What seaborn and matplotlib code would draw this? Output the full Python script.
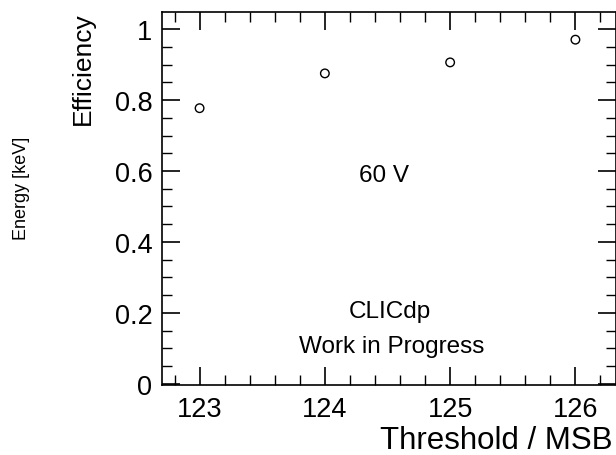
import numpy as np
import pandas as pd
import seaborn as sns
import matplotlib.pyplot as plt
from matplotlib.ticker import MultipleLocator, FormatStrFormatter

# data
threshold = [123, 124, 125, 126]
efficiency = [0.777, 0.875, 0.906, 0.970]
df = pd.DataFrame({'Threshold': threshold, 'Efficiency': efficiency})

sns.set_style('ticks')
plt.rcParams['font.family'] = ['Liberation Sans', 'DejaVu Sans']
plt.rcParams['text.color'] = 'black'

fig = plt.figure(figsize=(6.16, 4.56), dpi=100)
ax = fig.add_axes([162/616, 1 - 386/456, (615.5 - 162)/616, (386 - 13)/456])

sns.scatterplot(data=df, x='Threshold', y='Efficiency', ax=ax, marker='o',
                s=38, facecolor='none', edgecolor='black', linewidth=1.0)

ax.set_xlim(122.7, 126.32)
ax.set_ylim(-0.003, 1.048)

ax.xaxis.set_major_locator(MultipleLocator(1))
ax.xaxis.set_minor_locator(MultipleLocator(0.2))
ax.yaxis.set_major_locator(MultipleLocator(0.2))
ax.yaxis.set_minor_locator(MultipleLocator(0.05))
ax.yaxis.set_major_formatter(FormatStrFormatter('%g'))

ax.tick_params(which='both', direction='in', top=True, right=True,
               color='black', labelcolor='black')
ax.tick_params(which='major', length=13, width=1.2, labelsize=19.5)
ax.tick_params(which='minor', length=7, width=1.0)
ax.tick_params(axis='x', which='major', pad=8)
ax.tick_params(axis='y', which='major', pad=7)
for sp in ax.spines.values():
    sp.set_linewidth(1.2)
    sp.set_color('black')

ax.set_xlabel('')
ax.set_ylabel('')
fig.text(613/616, 1 - 441.5/456, 'Threshold / MSB', ha='right', va='center', fontsize=22.5)
fig.text(83/616, 1 - 12/456, 'Efficiency', ha='center', va='top', rotation=90, fontsize=19)
fig.text(22/616, 1 - 188/456, 'Energy [keV]', ha='center', va='center', rotation=90, fontsize=13)

ax.text(124.47, 0.59, '60 V', ha='center', va='center', fontsize=17.5)
ax.text(124.52, 0.205, 'CLICdp', ha='center', va='center', fontsize=17.5)
ax.text(124.53, 0.107, 'Work in Progress', ha='center', va='center', fontsize=17.5)

fig.savefig('out.png', dpi=100)
